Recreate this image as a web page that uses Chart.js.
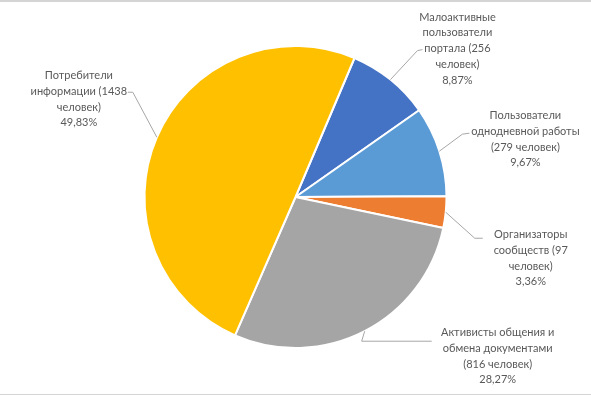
<!DOCTYPE html>
<html>
<head>
<meta charset="utf-8">
<script src="https://cdn.jsdelivr.net/npm/chart.js@4.4.0/dist/chart.umd.min.js"></script>
<style>
  html, body { margin: 0; padding: 0; background: #fff; }
  #wrap { width: 591px; height: 395px; }
</style>
</head>
<body>
<div id="wrap"><canvas id="myChart" width="591" height="395"></canvas></div>
<script>
// categories in drawing order (clockwise from the rotation start)
const categories = [
  'Малоактивные пользователи портала',
  'Пользователи однодневной работы',
  'Организаторы сообществ',
  'Активисты общения и обмена документами',
  'Потребители информации'
]
const people = [256, 279, 97, 816, 1438]
const colors = ['#4472C4', '#5B9BD5', '#ED7D31', '#A5A5A5', '#FFC000']

// label text lines (the percent line is appended below)
const labelLines = [
  ['Малоактивные', 'пользователи', 'портала (256', 'человек)'],
  ['Пользователи', 'однодневной работы', '(279 человек)'],
  ['Организаторы', 'сообществ (97', 'человек)'],
  ['Активисты общения и', 'обмена документами', '(816 человек)'],
  ['Потребители', 'информации (1438', 'человек)']
]

// leader layout relative to the slice's outer mid point: elbow, end, text centre
const leaders = [
  { elbow: [27, -29], end: [32, -30], text: [67, -31] },
  { elbow: [23, -17], end: [30, -18], text: [86, -12] },
  { elbow: [29, 26], end: [37, 26], text: [85, 46] },
  { elbow: [-3, 10], end: [67, 10], text: [133, 25] },
  { elbow: [-24, -45], end: [-29, -45], text: [-78, -38] }
]

const total = people.reduce((a, b) => a + b, 0)
const percentText = people.map((v) => (v / total * 100).toFixed(2).replace('.', ',') + '%')

const outsideLabels = {
  id: 'outsideLabels',
  beforeDraw(chart) {
    // thin grey frame edges seen on the original image
    const c = chart.ctx
    c.save()
    c.fillStyle = '#d4d4d4'
    c.fillRect(0, 0, chart.width, 2)
    c.fillRect(0, chart.height - 1, chart.width, 1)
    c.restore()
  },
  afterDraw(chart) {
    const ctx = chart.ctx
    const arcs = chart.getDatasetMeta(0).data
    ctx.save()
    arcs.forEach((arc, i) => {
      const mid = (arc.startAngle + arc.endAngle) / 2
      const ex = arc.x + Math.cos(mid) * arc.outerRadius
      const ey = arc.y + Math.sin(mid) * arc.outerRadius
      const l = leaders[i]
      ctx.strokeStyle = '#A6A6A6'
      ctx.lineWidth = 1
      ctx.beginPath()
      ctx.moveTo(ex, ey)
      ctx.lineTo(ex + l.elbow[0], ey + l.elbow[1])
      ctx.lineTo(ex + l.end[0], ey + l.end[1])
      ctx.stroke()

      const lines = labelLines[i].concat([percentText[i]])
      const lh = 15.7
      const cx = ex + l.text[0]
      const cy = ey + l.text[1] - (lines.length - 1) * lh / 2
      ctx.fillStyle = '#595959'
      ctx.font = '11px Lato'
      ctx.textAlign = 'center'
      ctx.textBaseline = 'middle'
      lines.forEach((t, k) => ctx.fillText(t, cx, cy + k * lh))
    })
    ctx.restore()
  }
}

const ctx = document.getElementById('myChart')
// eslint-disable-next-line no-unused-vars
const myChart = new Chart(ctx, {
  type: 'pie',
  data: {
    labels: categories,
    datasets: [{
      data: people,
      backgroundColor: colors,
      borderColor: '#ffffff',
      borderWidth: 2
    }]
  },
  options: {
    responsive: false,
    animation: false,
    rotation: 23,
    layout: { padding: { top: 45, bottom: 46, left: 0, right: 0 } },
    plugins: {
      legend: { display: false },
      tooltip: { enabled: false }
    }
  },
  plugins: [outsideLabels]
})
</script>
</body>
</html>
